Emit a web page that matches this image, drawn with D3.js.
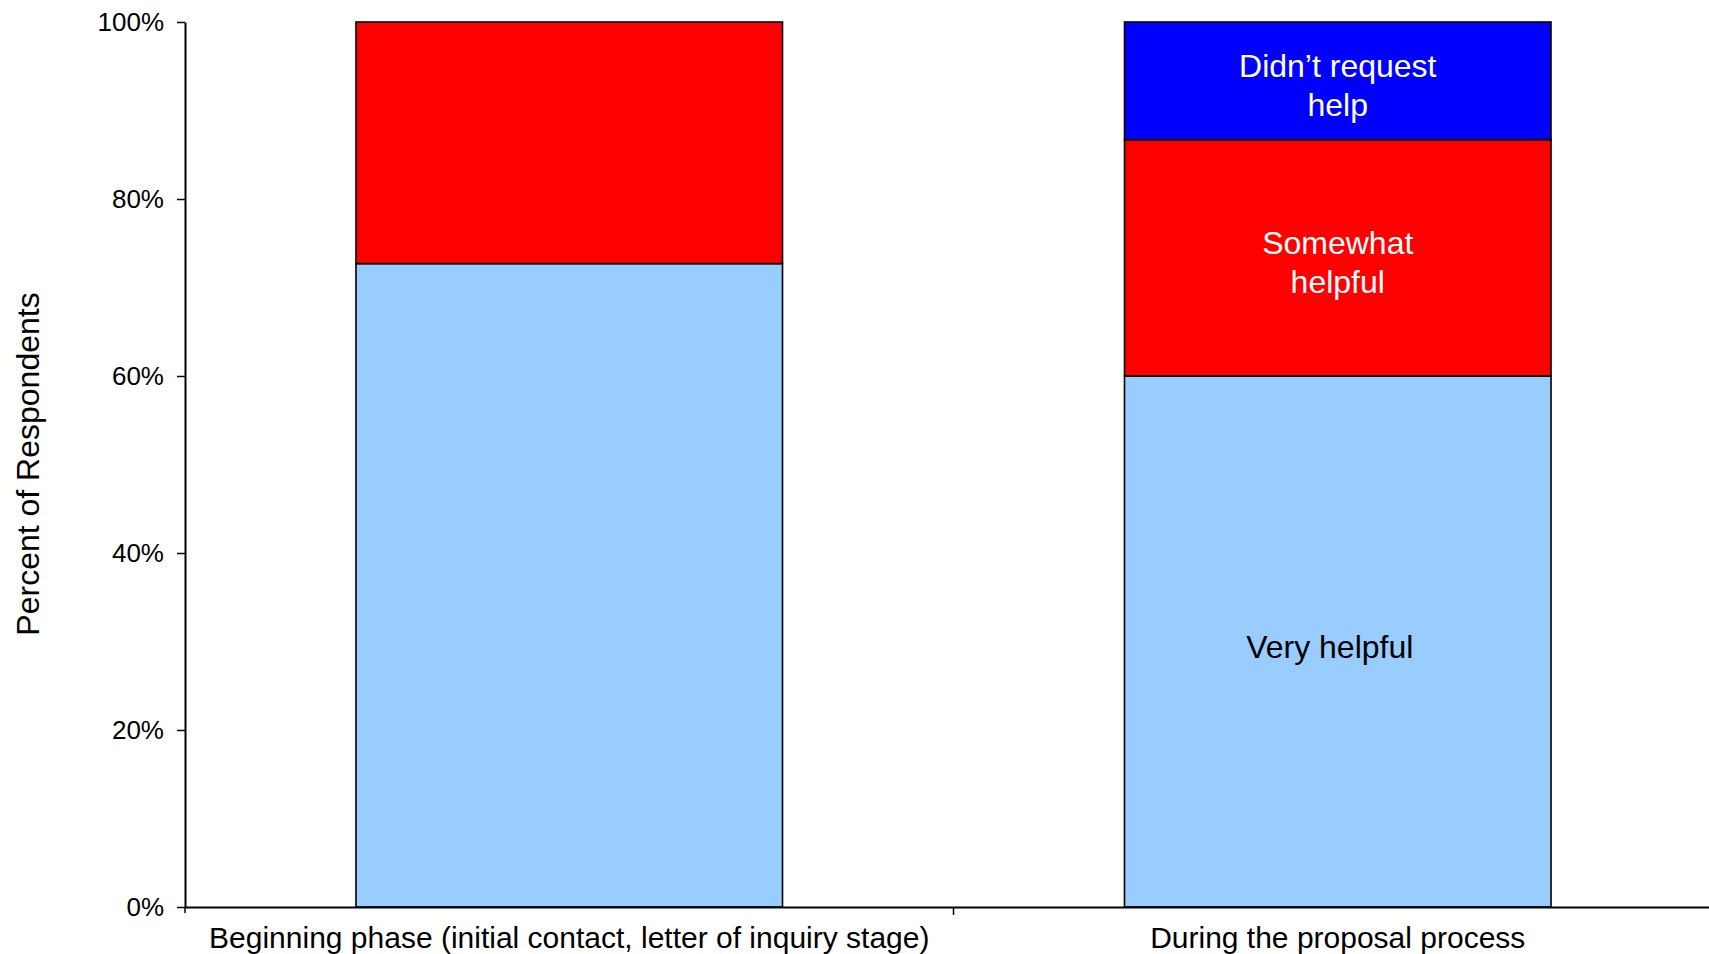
<!DOCTYPE html>
<html><head><meta charset="utf-8">
<script src="https://cdn.jsdelivr.net/npm/d3@7"></script>
<style>body{margin:0;background:#fff;} svg{display:block;font-family:"Liberation Sans",Arial,sans-serif;}</style>
</head><body>
<svg id="chart" width="1709" height="954"></svg>
<script>
const categories = ["Beginning phase (initial contact, letter of inquiry stage)", "During the proposal process"];
const seriesNames = ["Very helpful", "Somewhat helpful", "Didn't request help"];
const veryHelpful = [72.7, 60.0];
const somewhatHelpful = [27.3, 26.7];
const didntRequest = [0, 13.3];
const yTicks = [0, 20, 40, 60, 80, 100];
const colors = ["#99ccff", "#ff0000", "#0000ff"];

(function () {
const svg = d3.select("#chart");
const mL = 185, mT = 22, mB = 907, mR = 1722;
const x = d3.scaleBand().domain(categories).range([mL, mR]).padding(0);
const y = d3.scaleLinear().domain([0, 100]).range([mB, mT]);
const barFrac = 0.555;

const rows = categories.map((c, i) => ({cat: c, s0: veryHelpful[i], s1: somewhatHelpful[i], s2: didntRequest[i]}));
const stack = d3.stack().keys(["s0", "s1", "s2"])(rows);

const bw = x.bandwidth() * barFrac;
stack.forEach((layer, li) => {
  svg.append("g").selectAll("rect").data(layer.filter(d => d[1] - d[0] > 0)).join("rect")
    .attr("x", d => x(d.data.cat) + (x.bandwidth() - bw) / 2)
    .attr("width", bw)
    .attr("y", d => y(d[1]))
    .attr("height", d => y(d[0]) - y(d[1]))
    .attr("fill", colors[li])
    .attr("stroke", "#000").attr("stroke-width", 1.6);
});

// segment labels on second bar
const cat2 = categories[1];
stack.forEach((layer, li) => {
  const d = layer[1];
  const lines = li === 0 ? ["Very helpful"] : li === 1 ? ["Somewhat", "helpful"] : ["Didn\u2019t request", "help"];
  const cx = x(cat2) + x.bandwidth() / 2 + (li === 0 ? -8 : 0);
  const cy = y((d[0] + d[1]) / 2);
  const t = svg.append("text").attr("x", cx).attr("text-anchor", "middle")
    .attr("font-size", 32).attr("fill", li === 0 ? "#000" : "#fff");
  const lh = 39;
  lines.forEach((ln, k) => {
    t.append("tspan").attr("x", cx).attr("y", cy + (k - (lines.length - 1) / 2) * lh + 16).text(ln);
  });
});

// y axis
const yAxis = d3.axisLeft(y).tickValues(yTicks).tickFormat(d => d + "%").tickSize(8).tickSizeOuter(0);
const gy = svg.append("g").attr("transform", `translate(${mL},0)`).call(yAxis);
gy.select(".domain").attr("stroke-width", 2);
gy.selectAll(".tick line").attr("stroke-width", 1.5);
gy.selectAll("text").attr("font-size", 26).attr("font-family", "Liberation Sans, Arial, sans-serif").attr("fill", "#000").attr("dx", -10);

// x axis
const xAxis = d3.axisBottom(x).tickSize(0).tickSizeOuter(0);
const gx = svg.append("g").attr("transform", `translate(0,${mB})`).call(xAxis);
gx.select(".domain").attr("stroke-width", 2);
gx.selectAll("text").attr("font-size", 30).attr("font-family", "Liberation Sans, Arial, sans-serif").attr("fill", "#000").attr("y", 0).attr("dy", 41);
svg.append("line").attr("x1", x(categories[1])).attr("x2", x(categories[1]))
  .attr("y1", mB).attr("y2", mB + 8).attr("stroke", "#000").attr("stroke-width", 1.5);
svg.append("line").attr("x1", mL).attr("x2", mL)
  .attr("y1", mB).attr("y2", mB + 6).attr("stroke", "#000").attr("stroke-width", 1.5);

// y title
svg.append("text").attr("transform", `translate(39,464) rotate(-90)`).attr("text-anchor", "middle")
  .attr("font-size", 32).attr("fill", "#000").text("Percent of Respondents");
})();
</script>
</body></html>
